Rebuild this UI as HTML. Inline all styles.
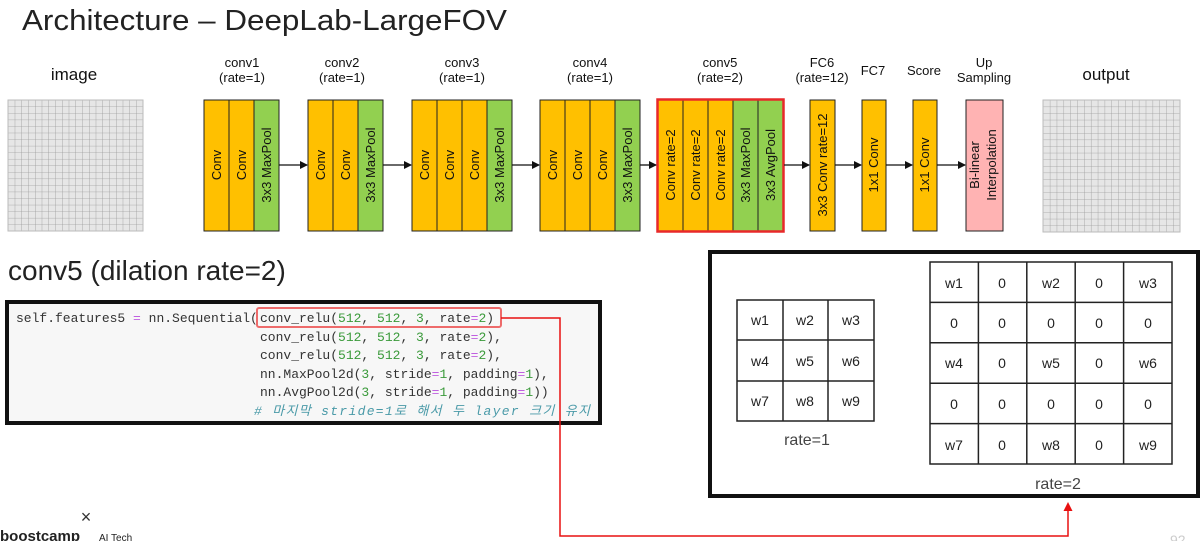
<!DOCTYPE html>
<html><head><meta charset="utf-8"><style>
html,body{margin:0;padding:0;background:#fff;}
svg{display:block}
</style></head><body>
<svg width="1203" height="541" viewBox="0 0 1203 541" xmlns="http://www.w3.org/2000/svg" font-family="Liberation Sans, sans-serif">
<defs>
<pattern id="g" x="8" y="100" width="6.75" height="6.55" patternUnits="userSpaceOnUse">
<rect width="6.75" height="6.55" fill="#e6e6e6"/>
<path d="M0 0H6.75M0 0V6.55" stroke="#9a9a9a" stroke-width="0.8"/>
</pattern>
<pattern id="g2" x="1043" y="100" width="6.85" height="6.6" patternUnits="userSpaceOnUse">
<rect width="6.85" height="6.6" fill="#e6e6e6"/>
<path d="M0 0H6.85M0 0V6.6" stroke="#9a9a9a" stroke-width="0.8"/>
</pattern>
<marker id="ar" markerWidth="8" markerHeight="8" refX="7" refY="4" orient="auto" markerUnits="userSpaceOnUse"><path d="M0 0L8 4L0 8z" fill="#111"/></marker>
</defs>
<text x="22" y="30" font-size="29" fill="#222" textLength="485" lengthAdjust="spacingAndGlyphs">Architecture – DeepLab-LargeFOV</text>

<g font-size="13" fill="#111" text-anchor="middle">
<text x="74" y="80" font-size="17">image</text>
<text x="242" y="67">conv1</text><text x="242" y="82">(rate=1)</text>
<text x="342" y="67">conv2</text><text x="342" y="82">(rate=1)</text>
<text x="462" y="67">conv3</text><text x="462" y="82">(rate=1)</text>
<text x="590" y="67">conv4</text><text x="590" y="82">(rate=1)</text>
<text x="720" y="67">conv5</text><text x="720" y="82">(rate=2)</text>
<text x="822" y="67">FC6</text><text x="822" y="82">(rate=12)</text>
<text x="873" y="75">FC7</text>
<text x="924" y="75">Score</text>
<text x="984" y="67">Up</text><text x="984" y="82">Sampling</text>
<text x="1106" y="80" font-size="17">output</text>
</g>

<rect x="8" y="100" width="135" height="131" fill="url(#g)" stroke="#bbb"/>
<rect x="1043" y="100" width="137" height="132" fill="url(#g2)" stroke="#bbb"/>

<g stroke="#222" stroke-width="1" font-size="13" fill="#111">
<rect x="204" y="100" width="25" height="131" fill="#FFC000"/><rect x="229" y="100" width="25" height="131" fill="#FFC000"/><rect x="254" y="100" width="25" height="131" fill="#92D050"/>
<rect x="308" y="100" width="25" height="131" fill="#FFC000"/><rect x="333" y="100" width="25" height="131" fill="#FFC000"/><rect x="358" y="100" width="25" height="131" fill="#92D050"/>
<rect x="412" y="100" width="25" height="131" fill="#FFC000"/><rect x="437" y="100" width="25" height="131" fill="#FFC000"/><rect x="462" y="100" width="25" height="131" fill="#FFC000"/><rect x="487" y="100" width="25" height="131" fill="#92D050"/>
<rect x="540" y="100" width="25" height="131" fill="#FFC000"/><rect x="565" y="100" width="25" height="131" fill="#FFC000"/><rect x="590" y="100" width="25" height="131" fill="#FFC000"/><rect x="615" y="100" width="25" height="131" fill="#92D050"/>
<rect x="658" y="100" width="25" height="131" fill="#FFC000"/><rect x="683" y="100" width="25" height="131" fill="#FFC000"/><rect x="708" y="100" width="25" height="131" fill="#FFC000"/><rect x="733" y="100" width="25" height="131" fill="#92D050"/><rect x="758" y="100" width="25" height="131" fill="#92D050"/>
<rect x="810" y="100" width="25" height="131" fill="#FFC000"/>
<rect x="862" y="100" width="24" height="131" fill="#FFC000"/>
<rect x="913" y="100" width="24" height="131" fill="#FFC000"/>
<rect x="966" y="100" width="37" height="131" fill="#FFB3B3"/>
</g>
<rect x="657.5" y="99.5" width="126" height="132" fill="none" stroke="#e8282a" stroke-width="2.5"/>

<g font-size="13" fill="#111" text-anchor="middle">
<text transform="translate(221,165) rotate(-90)">Conv</text>
<text transform="translate(246,165) rotate(-90)">Conv</text>
<text transform="translate(271,165) rotate(-90)">3x3 MaxPool</text>
<text transform="translate(325,165) rotate(-90)">Conv</text>
<text transform="translate(350,165) rotate(-90)">Conv</text>
<text transform="translate(375,165) rotate(-90)">3x3 MaxPool</text>
<text transform="translate(429,165) rotate(-90)">Conv</text>
<text transform="translate(454,165) rotate(-90)">Conv</text>
<text transform="translate(479,165) rotate(-90)">Conv</text>
<text transform="translate(504,165) rotate(-90)">3x3 MaxPool</text>
<text transform="translate(557,165) rotate(-90)">Conv</text>
<text transform="translate(582,165) rotate(-90)">Conv</text>
<text transform="translate(607,165) rotate(-90)">Conv</text>
<text transform="translate(632,165) rotate(-90)">3x3 MaxPool</text>
<text transform="translate(675,165) rotate(-90)">Conv rate=2</text>
<text transform="translate(700,165) rotate(-90)">Conv rate=2</text>
<text transform="translate(725,165) rotate(-90)">Conv rate=2</text>
<text transform="translate(750,165) rotate(-90)">3x3 MaxPool</text>
<text transform="translate(775,165) rotate(-90)">3x3 AvgPool</text>
<text transform="translate(827,165) rotate(-90)">3x3 Conv rate=12</text>
<text transform="translate(878,165) rotate(-90)">1x1 Conv</text>
<text transform="translate(929,165) rotate(-90)">1x1 Conv</text>
<text transform="translate(979,165) rotate(-90)">Bi-linear</text>
<text transform="translate(996,165) rotate(-90)">Interpolation</text>
</g>

<g stroke="#111" stroke-width="1.3" marker-end="url(#ar)">
<line x1="279" y1="165" x2="307" y2="165"/>
<line x1="383" y1="165" x2="411" y2="165"/>
<line x1="512" y1="165" x2="539" y2="165"/>
<line x1="640" y1="165" x2="656" y2="165"/>
<line x1="784" y1="165" x2="809" y2="165"/>
<line x1="835" y1="165" x2="861" y2="165"/>
<line x1="886" y1="165" x2="912" y2="165"/>
<line x1="937" y1="165" x2="965" y2="165"/>
</g>

<text x="8" y="280" font-size="28" fill="#222">conv5 (dilation rate=2)</text>

<rect x="7" y="302" width="593" height="121" fill="#f7f7f7" stroke="#111" stroke-width="4"/>
<g font-family="Liberation Mono, monospace" font-size="13" fill="#333">
<text x="16" y="322" xml:space="preserve">self.features5 <tspan fill="#c060e0">=</tspan> nn.Sequential(</text>
<text x="260" y="322">conv_relu(<tspan fill="#3a9a3a">512</tspan>, <tspan fill="#3a9a3a">512</tspan>, <tspan fill="#3a9a3a">3</tspan>, rate<tspan fill="#c060e0">=</tspan><tspan fill="#3a9a3a">2</tspan>)</text>
<text x="260" y="341">conv_relu(<tspan fill="#3a9a3a">512</tspan>, <tspan fill="#3a9a3a">512</tspan>, <tspan fill="#3a9a3a">3</tspan>, rate<tspan fill="#c060e0">=</tspan><tspan fill="#3a9a3a">2</tspan>),</text>
<text x="260" y="359">conv_relu(<tspan fill="#3a9a3a">512</tspan>, <tspan fill="#3a9a3a">512</tspan>, <tspan fill="#3a9a3a">3</tspan>, rate<tspan fill="#c060e0">=</tspan><tspan fill="#3a9a3a">2</tspan>),</text>
<text x="260" y="378">nn.MaxPool2d(<tspan fill="#3a9a3a">3</tspan>, stride<tspan fill="#c060e0">=</tspan><tspan fill="#3a9a3a">1</tspan>, padding<tspan fill="#c060e0">=</tspan><tspan fill="#3a9a3a">1</tspan>),</text>
<text x="260" y="396">nn.AvgPool2d(<tspan fill="#3a9a3a">3</tspan>, stride<tspan fill="#c060e0">=</tspan><tspan fill="#3a9a3a">1</tspan>, padding<tspan fill="#c060e0">=</tspan><tspan fill="#3a9a3a">1</tspan>))</text>
<text x="254" y="415" fill="#4a9aa8" font-style="italic" font-family="Liberation Mono, Noto Sans CJK KR, monospace" textLength="336" lengthAdjust="spacing"># 마지막 stride=1로 해서 두 layer 크기 유지</text>
</g>
<rect x="257" y="308" width="244" height="19" fill="none" stroke="#ee6b6b" stroke-width="2" rx="2"/>

<polyline points="501,318 560,318 560,536 1068,536 1068,510" fill="none" stroke="#e81010" stroke-width="1.5"/>
<path d="M1063.5 511 L1068 502 L1072.5 511z" fill="#e81010"/>

<rect x="710" y="252" width="488" height="244" fill="#fff" stroke="#111" stroke-width="4"/>
<g stroke="#222" stroke-width="1.5" fill="none">
<rect x="737" y="300" width="137" height="121"/>
<line x1="783" y1="300" x2="783" y2="421"/><line x1="828" y1="300" x2="828" y2="421"/>
<line x1="737" y1="340" x2="874" y2="340"/><line x1="737" y1="381" x2="874" y2="381"/>
<rect x="930" y="262" width="242" height="202"/>
<line x1="978.4" y1="262" x2="978.4" y2="464"/><line x1="1026.8" y1="262" x2="1026.8" y2="464"/><line x1="1075.2" y1="262" x2="1075.2" y2="464"/><line x1="1123.6" y1="262" x2="1123.6" y2="464"/>
<line x1="930" y1="302.4" x2="1172" y2="302.4"/><line x1="930" y1="342.8" x2="1172" y2="342.8"/><line x1="930" y1="383.2" x2="1172" y2="383.2"/><line x1="930" y1="423.6" x2="1172" y2="423.6"/>
</g>
<g font-size="14" fill="#222" text-anchor="middle">
<text x="760" y="325">w1</text><text x="805" y="325">w2</text><text x="851" y="325">w3</text>
<text x="760" y="366">w4</text><text x="805" y="366">w5</text><text x="851" y="366">w6</text>
<text x="760" y="406">w7</text><text x="805" y="406">w8</text><text x="851" y="406">w9</text>
<text x="807" y="445" font-size="16" fill="#444">rate=1</text>
<text x="954" y="288">w1</text><text x="1002" y="288">0</text><text x="1051" y="288">w2</text><text x="1099" y="288">0</text><text x="1148" y="288">w3</text>
<text x="954" y="328">0</text><text x="1002" y="328">0</text><text x="1051" y="328">0</text><text x="1099" y="328">0</text><text x="1148" y="328">0</text>
<text x="954" y="368">w4</text><text x="1002" y="368">0</text><text x="1051" y="368">w5</text><text x="1099" y="368">0</text><text x="1148" y="368">w6</text>
<text x="954" y="409">0</text><text x="1002" y="409">0</text><text x="1051" y="409">0</text><text x="1099" y="409">0</text><text x="1148" y="409">0</text>
<text x="954" y="450">w7</text><text x="1002" y="450">0</text><text x="1051" y="450">w8</text><text x="1099" y="450">0</text><text x="1148" y="450">w9</text>
<text x="1058" y="489" font-size="16" fill="#444">rate=2</text>
</g>

<text x="86" y="523" font-size="18" fill="#333" text-anchor="middle">×</text>
<text x="0" y="541" font-size="15" font-weight="bold" fill="#222">boostcamp</text>
<text x="99" y="541" font-size="10" fill="#222">AI Tech</text>
<text x="1170" y="545" font-size="14" fill="#ccc">92</text>
</svg>
</body></html>
